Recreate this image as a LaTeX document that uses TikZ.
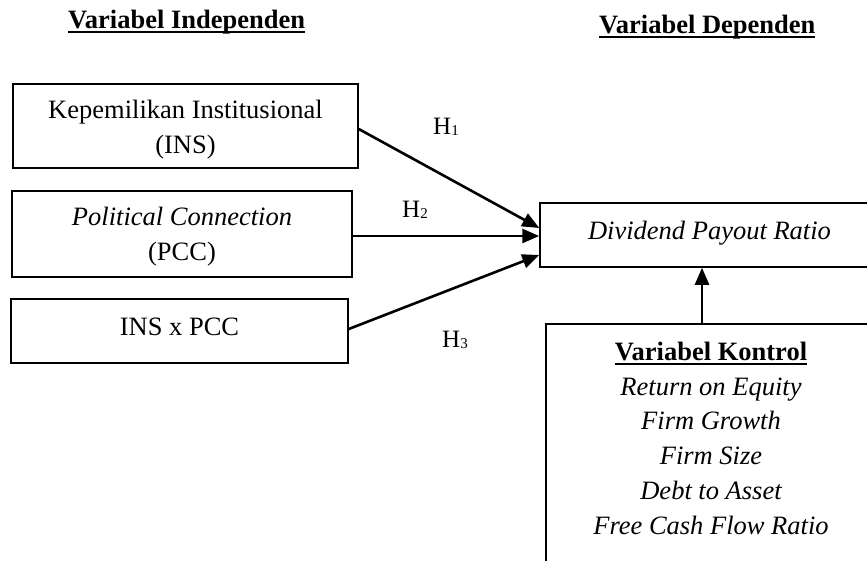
\documentclass[tikz,border=0pt]{standalone}
\usepackage{fontspec}
\setmainfont{Liberation Serif}
\usetikzlibrary{arrows.meta,calc}
\newsavebox\myulbox
\newcommand{\myul}[1]{\sbox\myulbox{#1}\rlap{\rule[-4.5pt]{\wd\myulbox}{1.8pt}}\usebox\myulbox}
\newcommand{\mysub}[1]{\raisebox{-1.5pt}{\fontsize{15}{15}\selectfont #1}}
\begin{document}
\begin{tikzpicture}[x=1pt,y=-1pt,
  box/.style={draw, line width=1.5pt, inner sep=0pt, rectangle},
  txt/.style={font=\fontsize{26.5}{32}\selectfont, anchor=base, inner sep=0pt},
  hd/.style={font=\fontsize{26.5}{32}\selectfont\bfseries, anchor=base west, inner sep=0pt},
  hl/.style={font=\fontsize{25}{30}\selectfont, anchor=base west, inner sep=0pt},
  arr/.style={line width=2.6pt, -{Triangle[length=17pt,width=14pt]}}]
\useasboundingbox (0,0) rectangle (867,560);
\clip (0,0) rectangle (867,560);
% headings
\node[hd] (h1) at (68,28) {\myul{Variabel Independen}};
\node[hd] (h2) at (599,33) {\myul{Variabel Dependen}};
% independent boxes
\node[box, minimum width=345pt, minimum height=84pt] (b1) at (185.5,126) {};
\node[txt] (t1a) at (185.5,118) {Kepemilikan Institusional};
\node[txt] (t1b) at (185.5,153) {(INS)};
\node[box, minimum width=340pt, minimum height=86pt] (b2) at (182,234) {};
\node[txt] (t2a) at (182,225) {\itshape Political Connection};
\node[txt] (t2b) at (182,260) {(PCC)};
\node[box, minimum width=337pt, minimum height=64pt] (b3) at (179.5,331) {};
\node[txt] (t3) at (179.5,335) {INS x PCC};
% dependent
\node[box, minimum width=339pt, minimum height=64pt] (dpr) at (709.5,235) {};
\node[txt] (t4) at (709.5,239) {\itshape Dividend Payout Ratio};
% control
\node[box, minimum width=330pt, minimum height=266pt] (ctrl) at (711,457) {};
\node[txt] (k0) at (711,360) {\bfseries\myul{Variabel Kontrol}};
\node[txt] (k1) at (711,395) {\itshape Return on Equity};
\node[txt] (k2) at (711,429.5) {\itshape Firm Growth};
\node[txt] (k3) at (711,464) {\itshape Firm Size};
\node[txt] (k4) at (711,499) {\itshape Debt to Asset};
\node[txt] (k5) at (711,534) {\itshape Free Cash Flow Ratio};
% hypothesis labels
\node[hl] (H1) at (433,134) {H\mysub{1}};
\node[hl] (H2) at (402,217) {H\mysub{2}};
\node[hl] (H3) at (442,347) {H\mysub{3}};
% arrows
\draw[arr] ($(b1.east)+(0,3)$) -- ($(dpr.west)+(0,-7)$);
\draw[arr] ($(b2.east)+(0,2)$) -- ($(dpr.west)+(0,1)$);
\draw[arr] ($(b3.east)+(0,-2)$) -- ($(dpr.west)+(0,20)$);
\draw[arr] ($(ctrl.north)+(-9,0)$) -- ($(dpr.south)+(-7.5,0)$);
\end{tikzpicture}
\end{document}
